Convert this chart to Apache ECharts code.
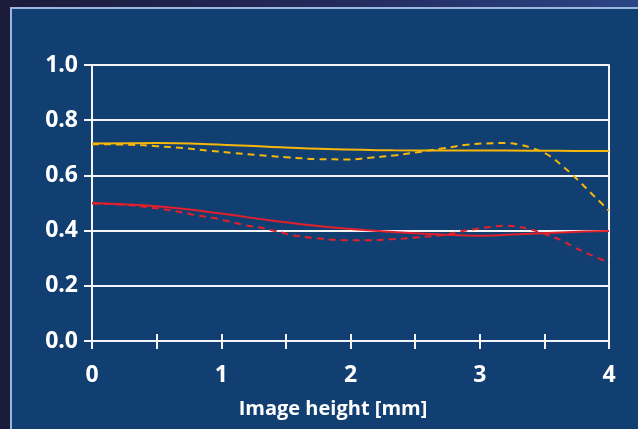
<!DOCTYPE html>
<html>
<head>
<meta charset="utf-8">
<style>
  html, body { margin: 0; padding: 0; background: #1c1c3e; }
  #chart { width: 638px; height: 429px; }
</style>
<script src="https://cdn.jsdelivr.net/npm/echarts@6/dist/echarts.min.js"></script>
</head>
<body>
<div id="chart"></div>
<script>
// MTF curves vs. image height
const xTicks = [0, 0.5, 1, 1.5, 2, 2.5, 3, 3.5, 4];
const yTicks = [0, 0.2, 0.4, 0.6, 0.8, 1.0];

const yellowSolidX = [0, 0.5, 1.0, 1.36, 1.82, 2.33, 2.77, 3.2, 3.6, 4.0];
const yellowSolidY = [0.716, 0.717, 0.711, 0.704, 0.696, 0.691, 0.690, 0.690, 0.689, 0.688];

const yellowDashX = [0, 0.3, 0.5, 0.7, 0.9, 1.1, 1.3, 1.5, 1.75, 2.0, 2.15, 2.35, 2.52, 2.72, 2.9, 3.05, 3.2, 3.3, 3.4, 3.5, 3.57, 3.64, 3.71, 3.78, 3.85, 3.92, 4.0];
const yellowDashY = [0.713, 0.711, 0.706, 0.699, 0.690, 0.681, 0.673, 0.666, 0.659, 0.658, 0.664, 0.673, 0.684, 0.698, 0.711, 0.716, 0.717, 0.712, 0.700, 0.682, 0.661, 0.634, 0.605, 0.574, 0.541, 0.509, 0.472];

const redSolidX = [0, 0.5, 1.0, 1.36, 1.82, 2.33, 2.77, 3.0, 3.34, 3.72, 4.0];
const redSolidY = [0.500, 0.488, 0.462, 0.438, 0.413, 0.395, 0.384, 0.381, 0.388, 0.395, 0.399];

const redDashX = [0, 0.2, 0.41, 0.6, 0.79, 0.98, 1.17, 1.35, 1.55, 1.74, 1.93, 2.13, 2.32, 2.51, 2.71, 2.89, 3.08, 3.18, 3.27, 3.37, 3.46, 3.54, 3.64, 3.72, 3.81, 3.9, 4.0];
const redDashY = [0.498, 0.495, 0.486, 0.474, 0.457, 0.442, 0.421, 0.406, 0.384, 0.372, 0.366, 0.365, 0.369, 0.375, 0.384, 0.400, 0.413, 0.418, 0.416, 0.407, 0.395, 0.381, 0.363, 0.342, 0.322, 0.303, 0.285];

const axisTitle = 'Image height [mm]';

const YELLOW = '#f4b70a';
const RED = '#e2202c';
const WHITE = '#f2f4f8';
const FONT = '"Open Sans", "Noto Sans", sans-serif';

function pairs(xs, ys) { return xs.map((x, i) => [x, ys[i]]); }

function curve(xs, ys, color, dashed) {
  return {
    type: 'line',
    data: pairs(xs, ys),
    smooth: 0.4,
    showSymbol: false,
    z: 5,
    lineStyle: { color: color, width: 2, type: dashed ? [7, 5] : 'solid' }
  };
}

const chart = echarts.init(document.getElementById('chart'), null, { renderer: 'canvas' });

chart.setOption({
  animation: false,
  backgroundColor: 'transparent',
  graphic: [
    {
      type: 'rect', z: -10, silent: true,
      shape: { x: 0, y: 0, width: 638, height: 429 },
      style: {
        fill: new echarts.graphic.LinearGradient(0, 0, 1, 0, [
          { offset: 0, color: '#1b1b3a' },
          { offset: 0.5, color: '#23295a' },
          { offset: 1, color: '#2b4585' }
        ])
      }
    },
    {
      type: 'rect', z: -9, silent: true,
      shape: { x: 11, y: 8, width: 640, height: 430 },
      style: { fill: '#123f72', stroke: '#9db6de', lineWidth: 2 }
    },
    {
      type: 'text', z: 10, silent: true,
      x: 333, y: 409,
      style: {
        text: axisTitle, fill: '#ffffff', font: 'bold 20px ' + FONT,
        textAlign: 'center', textVerticalAlign: 'middle'
      }
    }
  ],
  grid: { left: 92, right: 29, top: 65, bottom: 88, containLabel: false },
  xAxis: [
    {
      type: 'value', min: 0, max: 4, interval: 0.5,
      axisLine: { show: true, onZero: false, lineStyle: { color: WHITE, width: 2 } },
      axisTick: { show: true, inside: false, length: 8, lineStyle: { color: WHITE, width: 2 } },
      splitLine: { show: false },
      axisLabel: {
        color: '#ffffff', fontFamily: FONT, fontWeight: 'bold', fontSize: 23, margin: 23,
        formatter: v => (Math.abs(v - Math.round(v)) < 1e-6 ? String(Math.round(v)) : '')
      }
    },
    {
      type: 'value', min: 0, max: 4, interval: 0.5, position: 'bottom',
      axisLine: { show: false },
      axisTick: { show: true, inside: true, length: 7, lineStyle: { color: WHITE, width: 2 } },
      splitLine: { show: false },
      axisLabel: { show: false }
    }
  ],
  yAxis: [
    {
      type: 'value', min: 0, max: 1, interval: 0.2,
      axisLine: { show: true, onZero: false, lineStyle: { color: WHITE, width: 2 } },
      axisTick: { show: true, inside: false, length: 8, lineStyle: { color: WHITE, width: 2 } },
      splitLine: { show: true, lineStyle: { color: WHITE, width: 2 } },
      axisLabel: {
        color: '#ffffff', fontFamily: FONT, fontWeight: 'bold', fontSize: 23, margin: 14,
        formatter: v => v.toFixed(1)
      }
    },
    {
      type: 'value', min: 0, max: 1, interval: 0.2, position: 'right',
      axisLine: { show: true, onZero: false, lineStyle: { color: WHITE, width: 2 } },
      axisTick: { show: false },
      splitLine: { show: false },
      axisLabel: { show: false }
    }
  ],
  series: [
    curve(yellowSolidX, yellowSolidY, YELLOW, false),
    curve(yellowDashX, yellowDashY, YELLOW, true),
    curve(redSolidX, redSolidY, RED, false),
    curve(redDashX, redDashY, RED, true)
  ]
});
</script>
</body>
</html>
